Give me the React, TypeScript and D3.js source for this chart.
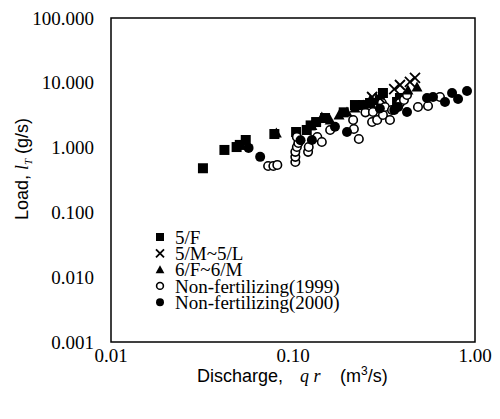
import React from "react";
import * as d3 from "d3";

const xTicks = [0.01, 0.1, 1];
const xTickLabels = ["0.01", "0.10", "1.00"];
const yTicks = [0.001, 0.01, 0.1, 1, 10, 100];
const yTickLabels = ["0.001", "0.010", "0.100", "1.000", "10.000", "100.000"];

const seriesNames = ["5/F", "5/M~5/L", "6/F~6/M", "Non-fertilizing(1999)", "Non-fertilizing(2000)"];

const sqX = [0.032, 0.042, 0.049, 0.051, 0.055, 0.079, 0.104, 0.119, 0.125, 0.134, 0.150, 0.19, 0.219, 0.243, 0.265, 0.30, 0.312, 0.373, 0.387];
const sqY = [0.48, 0.92, 1.02, 1.1, 1.31, 1.62, 1.74, 1.87, 2.2, 2.48, 2.86, 3.5, 4.54, 4.54, 4.88, 5.4, 6.96, 5.06, 5.83];

const crossX = [0.272, 0.30, 0.36, 0.387, 0.439, 0.468];
const crossY = [6.04, 5.8, 8.0, 9.25, 10.3, 11.9];

const triX = [0.081, 0.127, 0.144, 0.16, 0.179, 0.198, 0.219, 0.243, 0.265, 0.428, 0.48];
const triY = [1.68, 2.2, 2.96, 2.67, 3.18, 3.54, 4.09, 4.54, 5.4, 7.74, 8.61];

const openX = [0.073, 0.078, 0.082, 0.103, 0.103, 0.103, 0.105, 0.107, 0.105, 0.121, 0.122, 0.136, 0.144, 0.16, 0.214, 0.216, 0.23, 0.25, 0.272, 0.275, 0.29, 0.308, 0.312, 0.32, 0.341, 0.35, 0.387, 0.407, 0.423, 0.486, 0.552, 0.642];
const openY = [0.52, 0.52, 0.54, 0.60, 0.72, 0.86, 1.02, 1.18, 1.46, 0.86, 1.02, 1.46, 1.22, 1.87, 2.67, 1.94, 1.36, 3.5, 2.48, 3.54, 2.67, 4.88, 3.18, 4.24, 2.67, 3.8, 4.88, 5.43, 6.48, 4.24, 4.39, 6.04];

const fillX = [0.057, 0.066, 0.11, 0.127, 0.17, 0.198, 0.30, 0.36, 0.378, 0.423, 0.545, 0.588, 0.684, 0.748, 0.807, 0.904];
const fillY = [0.99, 0.72, 1.3, 1.31, 2.1, 1.74, 4.0, 3.8, 4.24, 3.54, 5.83, 6.04, 5.06, 6.96, 5.62, 7.47];

const serif = "'Liberation Serif', 'Times New Roman', serif";
const sans = "'Liberation Sans', Arial, sans-serif";

function Marker({ kind, cx, cy, s }: { kind: number; cx: number; cy: number; s: number }) {
  const h = s / 2;
  if (kind === 0) return <rect x={cx - h} y={cy - h} width={s} height={s} fill="#000" />;
  if (kind === 1)
    return (
      <path d={`M${cx - h},${cy - h}L${cx + h},${cy + h}M${cx - h},${cy + h}L${cx + h},${cy - h}`} stroke="#000" strokeWidth={1.8} fill="none" />
    );
  if (kind === 2)
    return <path d={`M${cx},${cy - h * 1.1}L${cx + h * 1.1},${cy + h * 0.9}L${cx - h * 1.1},${cy + h * 0.9}Z`} fill="#000" />;
  if (kind === 3) return <circle cx={cx} cy={cy} r={h * 0.85} fill="#fff" stroke="#000" strokeWidth={1.6} />;
  return <circle cx={cx} cy={cy} r={h} fill="#000" />;
}

export default function App() {
  const W = 500, H = 419;
  const left = 111, right = 475, top = 18, bottom = 342;
  const x = d3.scaleLog().domain([0.01, 1]).range([left, right]);
  const y = d3.scaleLog().domain([0.001, 100]).range([bottom, top]);

  const series = [
    { kind: 0, xs: sqX, ys: sqY, s: 10 },
    { kind: 3, xs: openX, ys: openY, s: 10 },
    { kind: 4, xs: fillX, ys: fillY, s: 10 },
    { kind: 2, xs: triX, ys: triY, s: 10 },
    { kind: 1, xs: crossX, ys: crossY, s: 10 },
  ];

  const legendKinds = [0, 1, 2, 3, 4];

  return (
    <svg width={W} height={H} style={{ position: "absolute", left: 0, top: 0, background: "#fff" }}>
      <rect x={0} y={0} width={W} height={H} fill="#fff" />
      {series.map((se, i) => (
        <g key={i}>
          {se.xs.map((v, j) => (
            <Marker key={j} kind={se.kind} cx={x(v)} cy={y(se.ys[j])} s={se.s} />
          ))}
        </g>
      ))}
      <rect x={left} y={top} width={right - left} height={bottom - top} fill="none" stroke="#000" strokeWidth={1.5} />
      {yTicks.map((t, i) => (
        <text key={i} x={94} y={y(t)} dy="0.35em" textAnchor="end" fontFamily={serif} fontSize={19}>
          {yTickLabels[i]}
        </text>
      ))}
      {xTicks.map((t, i) => (
        <text key={i} x={x(t)} y={362} textAnchor="middle" fontFamily={serif} fontSize={19}>
          {xTickLabels[i]}
        </text>
      ))}
      <text x={197} y={382} fontFamily={sans} fontSize={18}>Discharge,</text>
      <text x={300} y={382} fontFamily={serif} fontStyle="italic" fontSize={18}>q r</text>
      <text x={340} y={382} fontFamily={sans} fontSize={18}>
        (m<tspan dy={-7} fontSize={12}>3</tspan>
        <tspan dy={7}>/s)</tspan>
      </text>
      <text transform={`translate(28,169) rotate(-90)`} textAnchor="middle" fontFamily={sans} fontSize={18}>
        Load,{" "}
        <tspan fontFamily={serif} fontStyle="italic">l</tspan>
        <tspan fontFamily={serif} fontStyle="italic" fontSize={11} dy={4}>T</tspan>
        <tspan dy={-4}> (g/s)</tspan>
      </text>
      {seriesNames.map((n, i) => {
        const ly = 237 + i * 16.3;
        return (
          <g key={i}>
            <Marker kind={legendKinds[i]} cx={160} cy={ly} s={8} />
            <text x={175} y={ly} dy="0.35em" fontFamily={serif} fontSize={19}>
              {n}
            </text>
          </g>
        );
      })}
    </svg>
  );
}
